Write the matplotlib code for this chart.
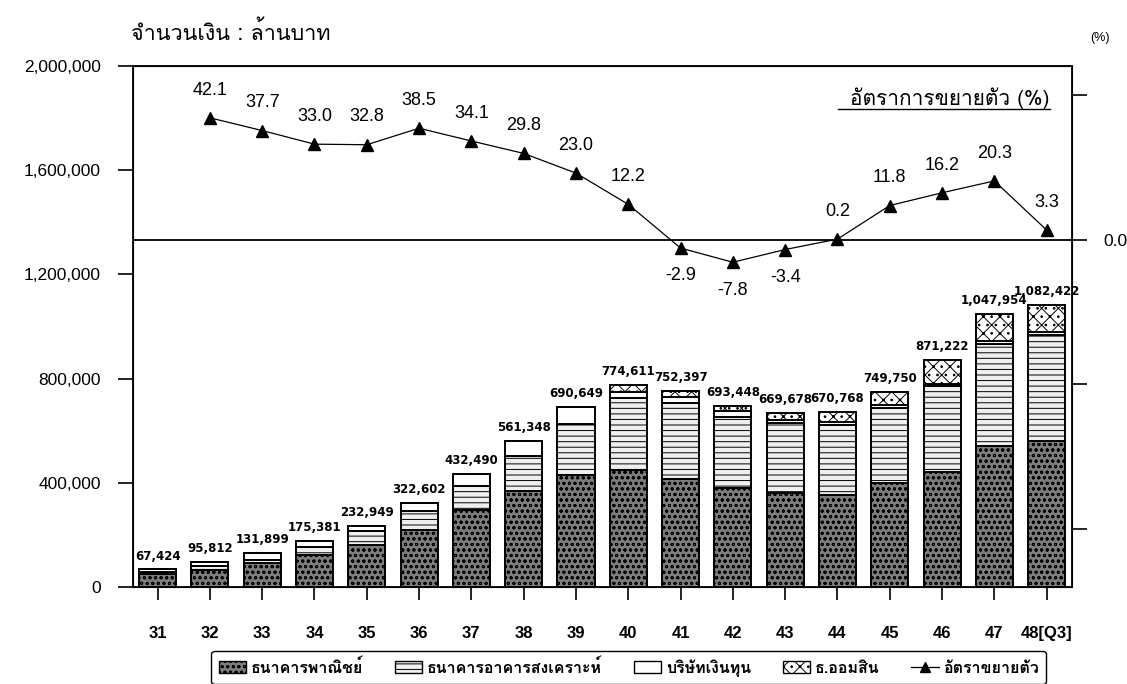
import matplotlib
matplotlib.use("Agg")
import numpy as np
import matplotlib.pyplot as plt
from matplotlib import font_manager
from matplotlib.ft2font import FT2Font
from matplotlib.lines import Line2D
from matplotlib.patches import Patch


def find_thai_family():
    # pick an installed family that actually has Thai glyphs
    for f in font_manager.fontManager.ttflist:
        try:
            cmap = FT2Font(f.fname).get_charmap()
        except Exception:
            continue
        if 0x0E01 in cmap and 0x0E33 in cmap:
            return f.name
    return "DejaVu Sans"


THAI = find_thai_family()
THAI_FAMILY = [THAI, "DejaVu Sans"]

plt.rcParams["hatch.linewidth"] = 0.7

# ------------------------------------------------------------
# data (million baht)
# ------------------------------------------------------------
years = ["31", "32", "33", "34", "35", "36", "37", "38", "39",
         "40", "41", "42", "43", "44", "45", "46", "47", "48[Q3]"]

totals = [67424, 95812, 131899, 175381, 232949, 322602, 432490, 561348, 690649,
          774611, 752397, 693448, 669678, 670768, 749750, 871222, 1047954, 1082422]

commercial = [49000, 66000, 92000, 122000, 160000, 220000, 295000, 370000, 430000,
              450000, 415000, 380000, 360000, 353000, 398000, 443000, 540000, 560000]
housing = [10000, 14000, 12000, 30000, 55000, 72000, 92000, 132000, 195000,
           274000, 290000, 274000, 270000, 270000, 288000, 328000, 391000, 408000]
finance = [8424, 15812, 27899, 23381, 17949, 30602, 45490, 59348, 65649,
           26000, 26000, 22000, 12000, 12000, 13000, 10000, 12000, 9000]
savings = [0, 0, 0, 0, 0, 0, 0, 0, 0,
           24611, 21397, 17448, 27678, 35768, 50750, 90222, 104954, 105422]

growth = [42.1, 37.7, 33.0, 32.8, 38.5, 34.1, 29.8, 23.0, 12.2,
          -2.9, -7.8, -3.4, 0.2, 11.8, 16.2, 20.3, 3.3]

series_names = ["ธนาคารพาณิชย์", "ธนาคารอาคารสงเคราะห์", "บริษัทเงินทุน", "ธ.ออมสิน"]
line_name = "อัตราขยายตัว"

# ------------------------------------------------------------
fig = plt.figure(figsize=(11.27, 6.84), dpi=100)
ax = fig.add_axes([0.118, 0.1418, 0.833, 0.7617])

x = np.arange(len(years))
width = 0.71

styles = [
    dict(facecolor="#7d7d7d", hatch="ooo"),
    dict(facecolor="#efefef", hatch="---"),
    dict(facecolor="white", hatch=None),
    dict(facecolor="white", hatch="xx.."),
]

bottom = np.zeros(len(years))
for vals, st in zip([commercial, housing, finance, savings], styles):
    vals = np.array(vals, dtype=float)
    ax.bar(x, vals, width, bottom=bottom, edgecolor="black", linewidth=1.4,
           facecolor=st["facecolor"], hatch=st["hatch"], zorder=2)
    bottom += vals

for xi, t in zip(x, totals):
    ax.annotate(f"{t:,}", (xi, t), xytext=(0, 5), textcoords="offset points",
                ha="center", va="bottom", fontsize=8.5, fontweight="bold",
                family="DejaVu Sans", zorder=5)

ax.set_xlim(-0.47, len(years) - 0.52)
ax.set_ylim(0, 2000000)
ax.set_yticks(np.arange(0, 2000001, 400000))
ax.set_yticklabels([f"{v:,}" for v in range(0, 2000001, 400000)],
                   fontsize=12.5, family="Liberation Sans")
ax.set_xticks(x)
ax.set_xticklabels(years, fontsize=12, fontweight="bold", family="Liberation Sans")
ax.tick_params(axis="y", direction="out", length=11, width=1.2, pad=12)
ax.tick_params(axis="x", direction="out", length=9, width=1.2, pad=19)
for sp in ax.spines.values():
    sp.set_linewidth(1.3)

# growth rate on the right-hand scale
ax2 = ax.twinx()
ax2.set_ylim(-120, 60)
ax2.set_yticks([-100, -50, 0, 50])
ax2.set_yticklabels(["", "", "0.0", ""], fontsize=12.5, family="Liberation Sans")
ax2.tick_params(axis="y", direction="out", length=11, width=1.2, pad=12)
ax2.axhline(0, color="black", linewidth=1.3, zorder=1)
ax2.plot(x[1:], growth, color="black", linewidth=0.9, marker="^",
         markersize=8, zorder=4)
for xi, g in zip(x[1:], growth):
    off = 20 if g >= 0 else -20
    ax2.annotate(f"{g:.1f}", (xi, g), xytext=(0, off), textcoords="offset points",
                 ha="center", va="center", fontsize=13, family="Liberation Sans")

ax2.text(0.9766, 0.938, "อัตราการขยายตัว (%)", transform=ax2.transAxes,
         ha="right", va="center", fontsize=15, family=THAI_FAMILY)
ax2.plot([0.751, 0.9766], [0.918, 0.918], transform=ax2.transAxes,
         color="black", linewidth=1.0)

fig.text(0.116, 0.951, "จำนวนเงิน : ล้านบาท", ha="left", va="center",
         fontsize=15.5, family=THAI_FAMILY)
fig.text(0.967, 0.945, "(%)", ha="left", va="center", fontsize=9,
         family="Liberation Sans")

handles = [Patch(edgecolor="black", linewidth=1.0, **st) for st in styles]
handles.append(Line2D([], [], color="black", marker="^", markersize=7,
                      linewidth=0.9))
fig.legend(handles, series_names + [line_name], loc="upper center",
           bbox_to_anchor=(0.558, 0.06), ncol=5, frameon=True, fancybox=True,
           edgecolor="black", framealpha=1, handlelength=1.7,
           handletextpad=0.3, columnspacing=2.0, borderpad=0.45,
           prop={"family": THAI_FAMILY, "size": 11.5, "weight": "bold"})

fig.savefig("out.png", dpi=100)
